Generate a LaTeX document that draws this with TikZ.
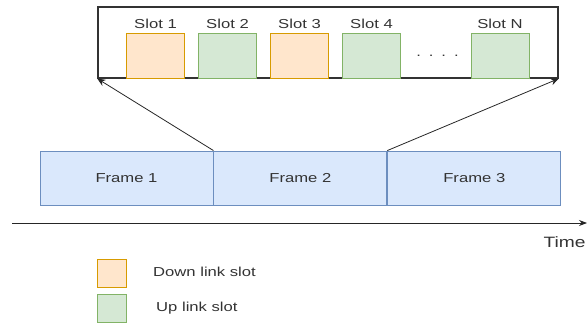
\documentclass[tikz,border=0pt]{standalone}
\usepackage{fontspec}
\setmainfont{Liberation Sans}[FakeStretch=1.28]
\usepackage{xcolor}
\usetikzlibrary{arrows.meta,positioning}

\definecolor{dlfill}{HTML}{FFE6CC}
\definecolor{dlline}{HTML}{D79B00}
\definecolor{ulfill}{HTML}{D5E8D4}
\definecolor{ulline}{HTML}{82B366}
\definecolor{frfill}{HTML}{DAE8FC}
\definecolor{frline}{HTML}{6C8EBF}
\definecolor{txt}{HTML}{333333}

\begin{document}
\begin{tikzpicture}[
    x=1pt, y=-1pt,
    font=\fontsize{13}{15}\selectfont,
    text=txt,
    node distance=0pt,
    frame/.style={
      draw=frline,
      fill=frfill,
      line width=0.9pt,
      minimum width=173pt,
      minimum height=54pt,
      inner sep=0pt
    },
    dlslot/.style={draw=dlline, fill=dlfill, line width=0.9pt,
      minimum width=58pt, minimum height=45pt, inner sep=0pt},
    ulslot/.style={draw=ulline, fill=ulfill, line width=0.9pt,
      minimum width=58pt, minimum height=45pt, inner sep=0pt},
    legbox/.style={minimum width=29pt, minimum height=28pt, inner sep=0pt},
    flow/.style={-{Stealth[length=8pt,width=7pt]}, line width=0.8pt, draw=black!85}
  ]
    \useasboundingbox (0,0) rectangle (587,323);

    % zoomed frame with its slots
    \node[draw=black!80, line width=1.3pt, minimum width=460pt,
      minimum height=71pt, inner sep=0pt] (zoom) at (328,42.5) {};
    \node[dlslot] (s1) at (155.5,55.5) {};
    \node[ulslot] (s2) at (227.5,55.5) {};
    \node[dlslot] (s3) at (299.5,55.5) {};
    \node[ulslot] (s4) at (371.5,55.5) {};
    \node[ulslot] (sn) at (500,55.5) {};
    \node (l1) at (155.5,24) {Slot 1};
    \node (l2) at (227.5,24) {Slot 2};
    \node (l3) at (299.5,24) {Slot 3};
    \node (l4) at (371.5,24) {Slot 4};
    \node (ln) at (500,24) {Slot N};
    \node[anchor=base] (dots) at (437.5,57)
      {.\hspace{8pt}.\hspace{8pt}.\hspace{8pt}.};

    % frames
    \node[frame] (f1) at (126.5,178) {Frame 1};
    \node[frame, right=of f1] (f2) {Frame 2};
    \node[frame, right=of f2] (f3) {Frame 3};

    \draw[flow] (f1.north east) -- (zoom.south west);
    \draw[flow] (f2.north east) -- (zoom.south east);

    % time axis
    \coordinate (t0) at (12,223);
    \coordinate (t1) at (587,223);
    \draw[-{Stealth[length=8pt,width=6pt]}, line width=0.8pt, draw=black!85] (t0) -- (t1);
    \node[anchor=west, font=\fontsize{15}{17}\selectfont] (time) at (540,242) {Time};

    % legend
    \node[legbox, dlslot, minimum width=29pt, minimum height=28pt] (kdl) at (112,273) {};
    \node[legbox, ulslot, minimum width=29pt, minimum height=28pt] (kul) at (112,308.5) {};
    \node[anchor=west, inner sep=0pt] (tdl) at (153,272) {Down link slot};
    \node[anchor=west, inner sep=0pt] (tul) at (156,308) {Up link slot};
  \end{tikzpicture}
\end{document}
